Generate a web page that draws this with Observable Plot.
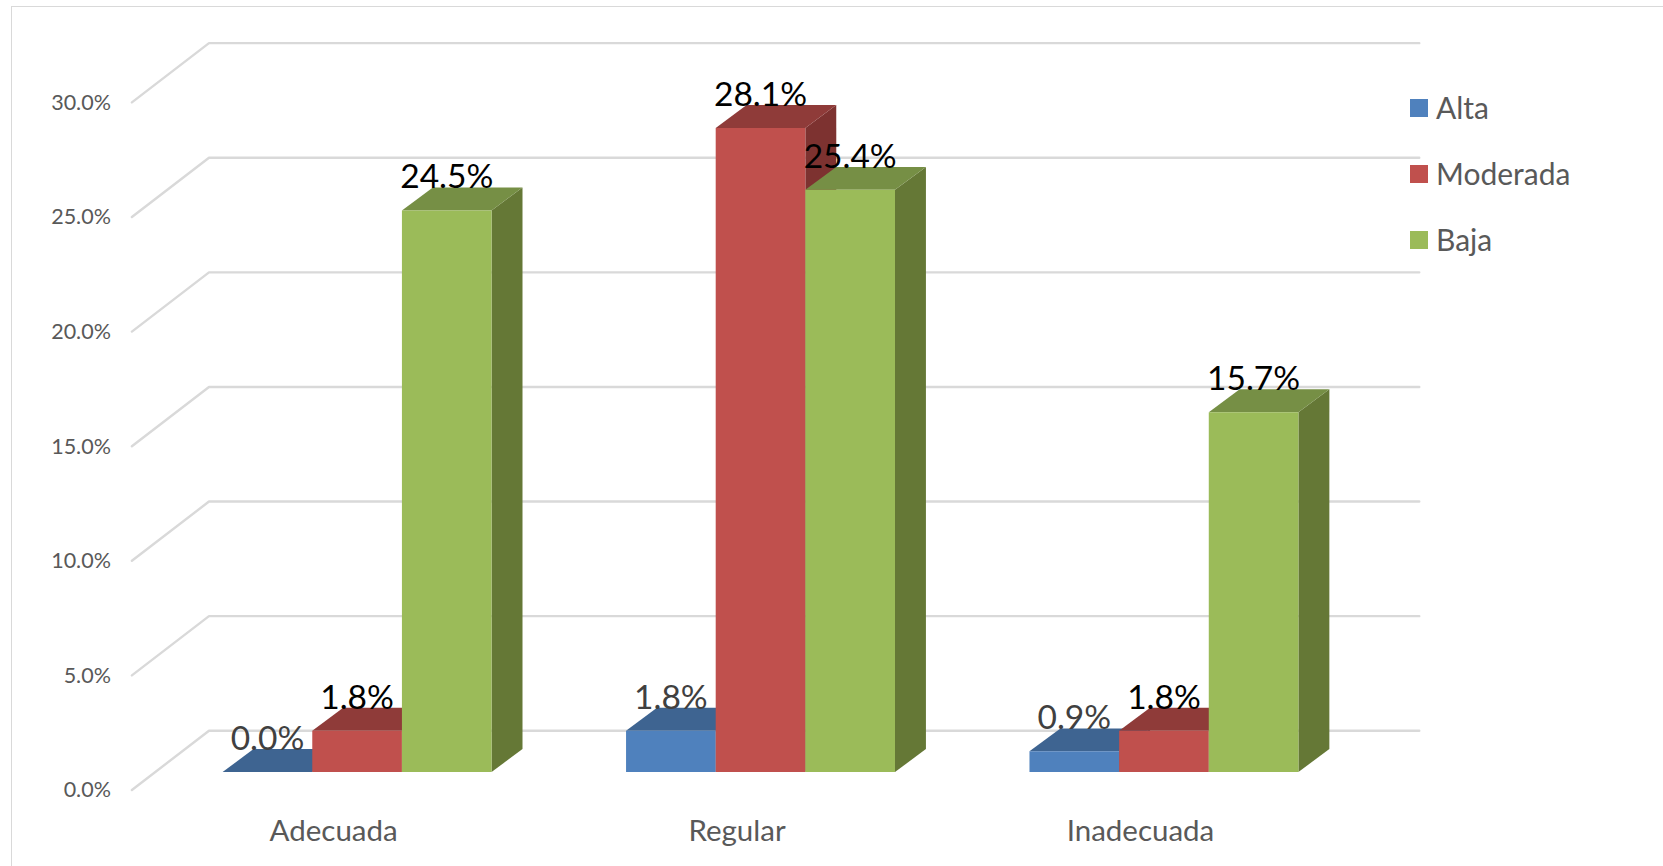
<!DOCTYPE html>
<html lang="es">
<head>
<meta charset="utf-8">
<title>Adecuada, Regular, Inadecuada por nivel</title>
<script src="https://cdn.jsdelivr.net/npm/d3@7"></script>
<script src="https://cdn.jsdelivr.net/npm/@observablehq/plot@0.6"></script>
<style>
  html, body { margin: 0; padding: 0; background: #fff; overflow: hidden; }
  #chart { position: relative; width: 1663px; height: 866px; overflow: hidden; }
  #chart svg { position: absolute; left: 0; top: 0; }
  #border { position: absolute; left: 11px; top: 6px; width: 1800px; height: 1000px; border: 1.5px solid #d9d9d9; }
  #legend { position: absolute; left: 1410px; top: 0; font: 30px Lato, sans-serif; color: #595959; }
  #legend div { position: absolute; white-space: nowrap; line-height: 16px; padding-left: 26px; }
  #legend i { position: absolute; left: 0; top: 0; width: 18px; height: 18px; }
</style>
</head>
<body>
<div id="chart"><div id="border"></div><div id="legend"></div></div>
<script>
const categories = ["Adecuada", "Regular", "Inadecuada"];
const levels = ["Alta", "Moderada", "Baja"];
const alta = [0.0, 1.8, 0.9];
const moderada = [1.8, 28.1, 1.8];
const baja = [24.5, 25.4, 15.7];
const yTicks = [0, 5, 10, 15, 20, 25, 30];

const frontColors = ["#4f81bd", "#c0504d", "#9bbb59"];
const topColors = ["#3e6491", "#8f3b39", "#768f45"];
const sideColors = ["#345478", "#7d3230", "#657836"];
const labelColors = ["#404040", "#000000", "#000000"];

// Oblique projection: x is measured in bar widths, y in percentage points.
const barsPerBand = 4.5;
const wallX = 0.86, wallY = 2.585;      // depth of the chart floor
const floorFront = -0.785;              // front edge of the floor, below the bars' base
const barInset = 0.262;                 // shift of a bar group from its band's centred slot
const barDepthX = 0.345, barDepthY = 1.0;

const series = [alta, moderada, baja];
const bars = categories.flatMap((category, c) =>
  series.map((values, s) => {
    const x0 = c * barsPerBand + 0.75 + barInset + s;
    return {category, c, s, value: values[c], x0, x1: x0 + 1};
  })
);

// Faces are listed back to front so that later bars cover earlier ones.
const faces = bars.flatMap((b) => {
  const id = `${b.c}-${b.s}`;
  const poly = (face, fill, pts) => pts.map(([x, y]) => ({id: `${id}-${face}`, fill, x, y}));
  const dx = barDepthX, dy = barDepthY, v = b.value;
  return [
    ...poly("side", sideColors[b.s], [[b.x1, 0], [b.x1 + dx, dy], [b.x1 + dx, v + dy], [b.x1, v]]),
    ...poly("top", topColors[b.s], [[b.x0, v], [b.x1, v], [b.x1 + dx, v + dy], [b.x0 + dx, v + dy]]),
    ...poly("front", frontColors[b.s], [[b.x0, 0], [b.x1, 0], [b.x1, v], [b.x0, v]])
  ];
});

const xEnd = categories.length * barsPerBand;
const grid = yTicks.flatMap((t) => [
  {t, x: 0, y: t + floorFront},
  {t, x: wallX, y: t + floorFront + wallY},
  {t, x: wallX + xEnd, y: t + floorFront + wallY}
]);

const pct = (v) => d3.format(".1f")(v) + "%";

const plot = Plot.plot({
  width: 1663,
  height: 866,
  marginLeft: 131.4,
  marginRight: 1663 - 131.4 - xEnd * 89.65,
  marginTop: 83.9,
  marginBottom: 94.5,
  style: {background: "transparent", fontFamily: "Lato, sans-serif"},
  x: {domain: [0, xEnd], axis: null},
  y: {domain: [0, 30]},
  color: {type: "identity"},
  marks: [
    Plot.line(grid, {x: "x", y: "y", z: "t", stroke: "#d9d9d9", strokeWidth: 2.4}),
    Plot.axisY({
      ticks: yTicks,
      tickSize: 0,
      tickPadding: 21,
      dy: 18.5,
      label: null,
      fontSize: 21.5,
      fill: "#595959",
      tickFormat: pct
    }),
    Plot.line(faces, {x: "x", y: "y", z: "id", fill: "fill", stroke: null, curve: "linear-closed"}),
    Plot.text(bars, {
      x: (d) => d.x0 + 0.5,
      y: "value",
      text: (d) => pct(d.value),
      fill: (d) => labelColors[d.s],
      fontSize: 33.5,
      textAnchor: "middle",
      lineAnchor: "bottom",
      dy: -22
    }),
    Plot.text(categories, {
      x: (d, i) => (i + 0.5) * barsPerBand,
      y: () => 0,
      text: (d) => d,
      fontSize: 29.5,
      fill: "#595959",
      dy: 59.5
    })
  ]
});
document.getElementById("chart").prepend(plot);

// Legend entries sit beside the plot's upper right corner.
const legend = document.getElementById("legend");
levels.forEach((name, i) => {
  const row = document.createElement("div");
  row.style.top = `${99 + i * 66}px`;
  row.textContent = name;
  const swatch = document.createElement("i");
  swatch.style.background = frontColors[i];
  row.prepend(swatch);
  legend.append(row);
});
</script>
</body>
</html>
